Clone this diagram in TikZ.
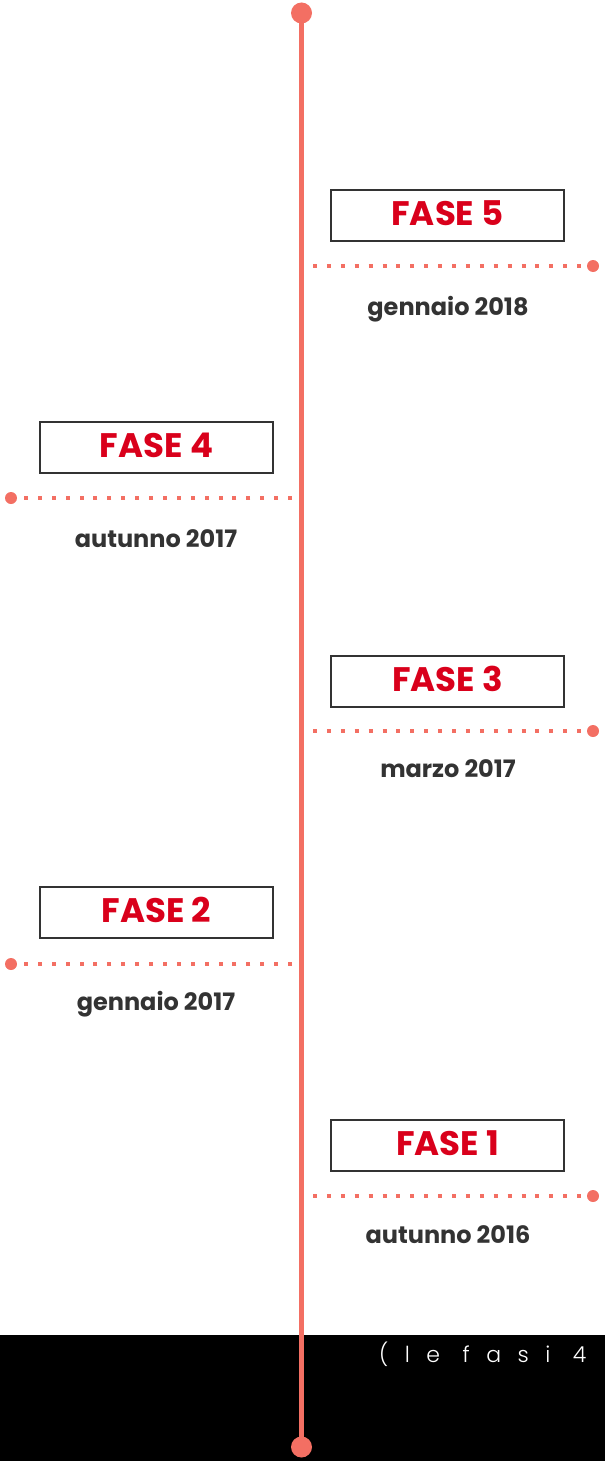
\documentclass[tikz,border=0pt]{standalone}
\usepackage{fontspec}
\setmainfont{Poppins}
\newfontfamily\spacedfont{Poppins Light}[LetterSpace=75]
\definecolor{salmon}{HTML}{F36F63}
\definecolor{fasered}{HTML}{D9001B}
\definecolor{darkgray}{HTML}{333333}
\tikzset{
  phasebox/.style={draw=darkgray, line width=2pt, minimum width=233pt, minimum height=51pt, inner sep=0pt,
    text height=24pt, text depth=5pt,
    font=\fontsize{34}{34}\selectfont\bfseries, text=fasered},
  datelabel/.style={font=\fontsize{24}{24}\selectfont\bfseries, text=darkgray, inner sep=0pt, anchor=base},
  enddot/.style={circle, fill=salmon, minimum size=12pt, inner sep=0pt},
  bigdot/.style={circle, fill=salmon, minimum size=21pt, inner sep=0pt},
  dotline/.style={salmon, line width=4pt, dash pattern=on 4pt off 9.9pt},
}
\begin{document}
\begin{tikzpicture}[x=1pt,y=-1pt]
\useasboundingbox (0,0) rectangle (605,1461);
\fill[black] (0,1335) rectangle (605,1461);
\begin{scope}
\clip (0,0) rectangle (605,1461);
\node[anchor=base west, text=white, inner sep=0pt, font=\spacedfont\fontsize{22}{22}\selectfont] (note) at (379,1362) {(le fasi 4};
\end{scope}
% axis
\node[bigdot] (top) at (301.5,13) {};
\node[bigdot] (bot) at (301.5,1447) {};
\draw[salmon, line width=5pt] (top.center) -- (bot.center);
% phases
\node[phasebox] (f5) at (447.5,215.5) {FASE 5};
\node[phasebox] (f4) at (156.5,447.5) {FASE 4};
\node[phasebox] (f3) at (447.5,681.5) {FASE 3};
\node[phasebox] (f2) at (156.5,912.5) {FASE 2};
\node[phasebox] (f1) at (447.5,1145.5) {FASE 1};
% dates
\node[datelabel] (d5) at (448,315) {gennaio 2018};
\node[datelabel] (d4) at (156,547) {autunno 2017};
\node[datelabel] (d3) at (448,777) {marzo 2017};
\node[datelabel] (d2) at (156,1010) {gennaio 2017};
\node[datelabel] (d1) at (448,1243) {autunno 2016};
% end dots
\node[enddot] (e5) at (593,266) {};
\node[enddot] (e4) at (11,498) {};
\node[enddot] (e3) at (593,731) {};
\node[enddot] (e2) at (11,964) {};
\node[enddot] (e1) at (593,1196) {};
\coordinate (s5) at (313,266);
\coordinate (s4) at (292,498);
\coordinate (s3) at (313,731);
\coordinate (s2) at (292,964);
\coordinate (s1) at (313,1196);
\draw[dotline] (s5) -- (e5.center);
\draw[dotline] (s4) -- (e4.center);
\draw[dotline] (s3) -- (e3.center);
\draw[dotline] (s2) -- (e2.center);
\draw[dotline] (s1) -- (e1.center);
\end{tikzpicture}
\end{document}
